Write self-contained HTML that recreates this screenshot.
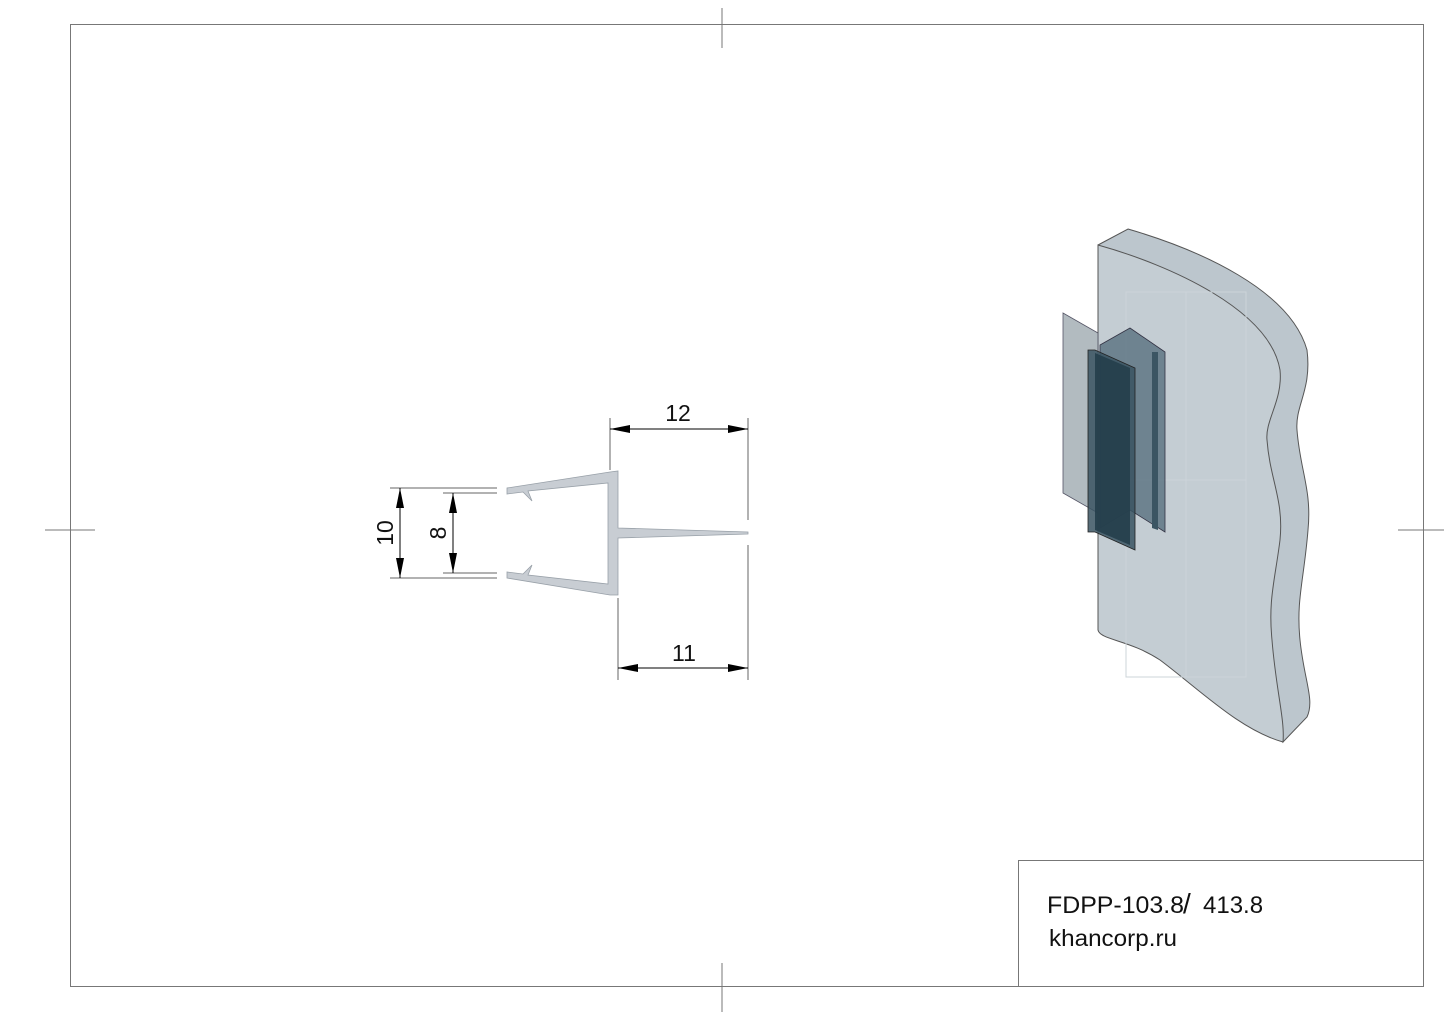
<!DOCTYPE html>
<html><head><meta charset="utf-8"><style>
html,body{margin:0;padding:0;background:#fff;}
svg{display:block;}
text{font-family:"Liberation Sans",sans-serif;fill:#111;}
</style></head><body>
<svg width="1444" height="1021" viewBox="0 0 1444 1021" xmlns="http://www.w3.org/2000/svg">
<defs>
<marker id="a" viewBox="0 0 20 8" refX="20" refY="4" markerWidth="20" markerHeight="8" markerUnits="userSpaceOnUse" orient="auto-start-reverse"><path d="M0,0 L20,4 L0,8 Z" fill="#000"/></marker>
</defs>
<g stroke="#777" stroke-width="1" fill="none">
<rect x="70.5" y="24.5" width="1353" height="962"/>
<line x1="722" y1="8" x2="722" y2="48"/>
<line x1="722" y1="963" x2="722" y2="1012"/>
<line x1="45" y1="530" x2="95" y2="530"/>
<line x1="1398" y1="530" x2="1444" y2="530"/>
<rect x="1018.5" y="860.5" width="405" height="126"/>
</g>
<text x="1047" y="913" font-size="24" textLength="137" lengthAdjust="spacingAndGlyphs">FDPP-103.8</text>
<text x="1183" y="913" font-size="28">/</text>
<text x="1203" y="913" font-size="24">413.8</text>
<text x="1049" y="946" font-size="23" fill="#333" textLength="128" lengthAdjust="spacingAndGlyphs">khancorp.ru</text>

<!-- profile -->
<path d="M610,472 L618,471 L618,528 L748,532 L748,534 L618,538 L618,595 L610,595 L507,578 L507,572 L523,574 L532,565 L528,575 L608,584 L608,483 L528,491 L532,501 L523,492 L507,494 L507,488 Z" fill="#c8cdd3" stroke="#98a0a8" stroke-width="0.8"/>
<g stroke="#666" stroke-width="1" fill="none">
<line x1="610" y1="418" x2="610" y2="470"/>
<line x1="748" y1="418" x2="748" y2="520"/>
<line x1="748" y1="545" x2="748" y2="680"/>
<line x1="618" y1="598" x2="618" y2="680"/>
<line x1="390" y1="488" x2="497" y2="488"/>
<line x1="390" y1="578" x2="497" y2="578"/>
<line x1="443" y1="493" x2="497" y2="493"/>
<line x1="443" y1="573" x2="497" y2="573"/>
</g>
<g stroke="#000" stroke-width="1">
<line x1="610" y1="429" x2="748" y2="429" marker-start="url(#a)" marker-end="url(#a)"/>
<line x1="618" y1="668" x2="748" y2="668" marker-start="url(#a)" marker-end="url(#a)"/>
<line x1="400" y1="488" x2="400" y2="578" marker-start="url(#a)" marker-end="url(#a)"/>
<line x1="453" y1="493" x2="453" y2="573" marker-start="url(#a)" marker-end="url(#a)"/>
</g>
<text x="678" y="421" font-size="23" text-anchor="middle">12</text>
<text x="684" y="661" font-size="23" text-anchor="middle">11</text>
<text transform="translate(393,533) rotate(-90)" font-size="23" text-anchor="middle">10</text>
<text transform="translate(446,533) rotate(-90)" font-size="23" text-anchor="middle">8</text>

<!-- 3D glass -->
<path d="M1098,245 L1128,229 C1200,250 1290,290 1307,350 C1312,390 1295,405 1297,430 C1300,470 1312,490 1308,530 C1304,580 1296,600 1300,640 C1304,680 1315,700 1307,717 L1283,742 L1283,735 Z" fill="#bcc6cd" stroke="#555" stroke-width="1"/>
<path d="M1098,245 C1170,265 1270,310 1280,370 C1283,400 1265,420 1267,440 C1270,480 1284,500 1280,540 C1275,580 1268,600 1272,640 C1276,690 1285,720 1283,742 C1240,730 1200,690 1160,660 C1130,640 1100,640 1098,630 Z" fill="#c4cdd3" stroke="#555" stroke-width="1"/>
<g stroke="#ccd4d9" stroke-width="1" fill="none">
<rect x="1126" y="292" width="120" height="385"/>
<line x1="1186" y1="292" x2="1186" y2="677"/>
<line x1="1126" y1="480" x2="1246" y2="480"/>
</g>
<!-- profile 3D -->
<path d="M1063,313 L1098,333 L1098,513 L1063,493 Z" fill="#98a4ab" fill-opacity="0.75" stroke="#556" stroke-width="0.8"/>
<path d="M1100,345 L1130,328 L1165,352 L1165,532 L1130,510 L1100,528 Z" fill="#52697a" fill-opacity="0.75" stroke="#334" stroke-width="0.8"/>
<path d="M1088,350 L1095,350 L1135,368 L1135,550 L1095,532 L1088,532 Z" fill="#3a5361" fill-opacity="0.85" stroke="#222" stroke-width="0.8"/>
<path d="M1095,353 L1130,368 L1130,545 L1095,530 Z" fill="#253e4b" fill-opacity="0.9"/>
<path d="M1152,352 L1158,352 L1158,530 L1152,528 Z" fill="#3b5563"/>
</svg>
</body></html>
